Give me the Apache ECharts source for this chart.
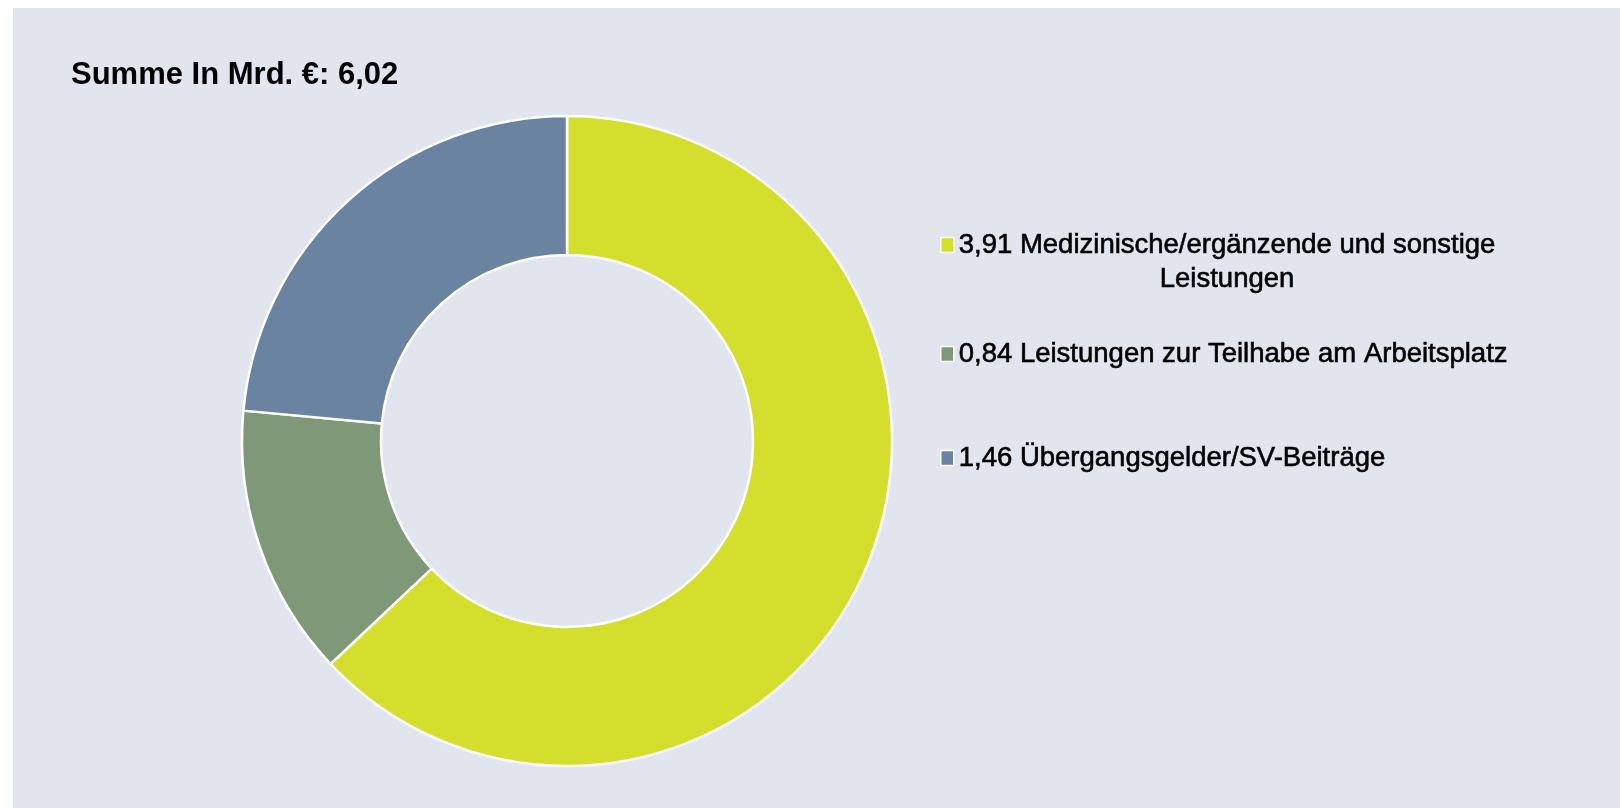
<!DOCTYPE html>
<html>
<head>
<meta charset="utf-8">
<script src="https://cdn.jsdelivr.net/npm/echarts@6/dist/echarts.min.js"></script>
<style>
  html, body { margin: 0; padding: 0; background: #ffffff; }
  /* Rahmen: oben und links weißer Rand */
  #chart { position: absolute; left: 13px; top: 8px; width: 1607px; height: 800px; }
</style>
</head>
<body>
<div id="chart"></div>
<script>
  // Daten
  var names = ['Medizinische/ergänzende und sonstige Leistungen', 'Leistungen zur Teilhabe am Arbeitsplatz', 'Übergangsgelder/SV-Beiträge'];
  var values = [3.91, 0.84, 1.46];
  var colors = ['#D4DE2C', '#7F9878', '#6A83A0'];
  var legendLines = [
    ['3,91 Medizinische/ergänzende und sonstige', 'Leistungen'],
    ['0,84 Leistungen zur Teilhabe am Arbeitsplatz'],
    ['1,46 Übergangsgelder/SV-Beiträge']
  ];
  var titleText = 'Summe In Mrd. €: 6,02';

  var myChart = echarts.init(document.getElementById('chart'));

  var font = 'Liberation Sans, Arial, sans-serif';
  var legendTops = [181, 324, 428];
  var legends = names.map(function (n, i) {
    var lines = legendLines[i];
    return {
      data: [n],
      orient: 'vertical',
      left: 922,
      top: legendTops[i],
      icon: 'rect',
      itemWidth: 13,
      itemHeight: 15,
      itemStyle: { borderColor: '#ffffff', borderWidth: 1.5 },
      selectedMode: false,
      formatter: function () {
        if (lines.length === 1) return '{a|' + lines[0] + '}';
        return '{a|' + lines[0] + '}\n{b|' + lines[1] + '}';
      },
      textStyle: {
        fontFamily: font,
        fontSize: 27.5,
        color: '#000000',
        lineHeight: 34,
        padding: lines.length > 1 ? [34, 0, 0, 0] : 0,
        rich: {
          a: { fontFamily: font, fontSize: 27.5, lineHeight: 34, color: '#000', textBorderColor: '#000', textBorderWidth: 0.6 },
          b: { fontFamily: font, fontSize: 27.5, lineHeight: 34, color: '#000', textBorderColor: '#000', textBorderWidth: 0.6, align: 'center' }
        }
      }
    };
  });

  var option = {
    backgroundColor: '#E1E5EE',
    animation: false,
    title: {
      text: titleText,
      left: 53,
      top: 47,
      textStyle: {
        fontFamily: font,
        fontSize: 31,
        fontWeight: 'bold',
        color: '#000000'
      }
    },
    legend: legends,
    series: [{
      type: 'pie',
      center: [554, 433],
      radius: [186, 325],
      startAngle: 90,
      clockwise: true,
      label: { show: false },
      labelLine: { show: false },
      emphasis: { disabled: true },
      itemStyle: { borderColor: '#ffffff', borderWidth: 2.5 },
      data: names.map(function (n, i) {
        return { name: n, value: values[i], itemStyle: { color: colors[i] } };
      })
    }]
  };

  myChart.setOption(option);
  window.addEventListener('resize', () => myChart.resize());
</script>
</body>
</html>
